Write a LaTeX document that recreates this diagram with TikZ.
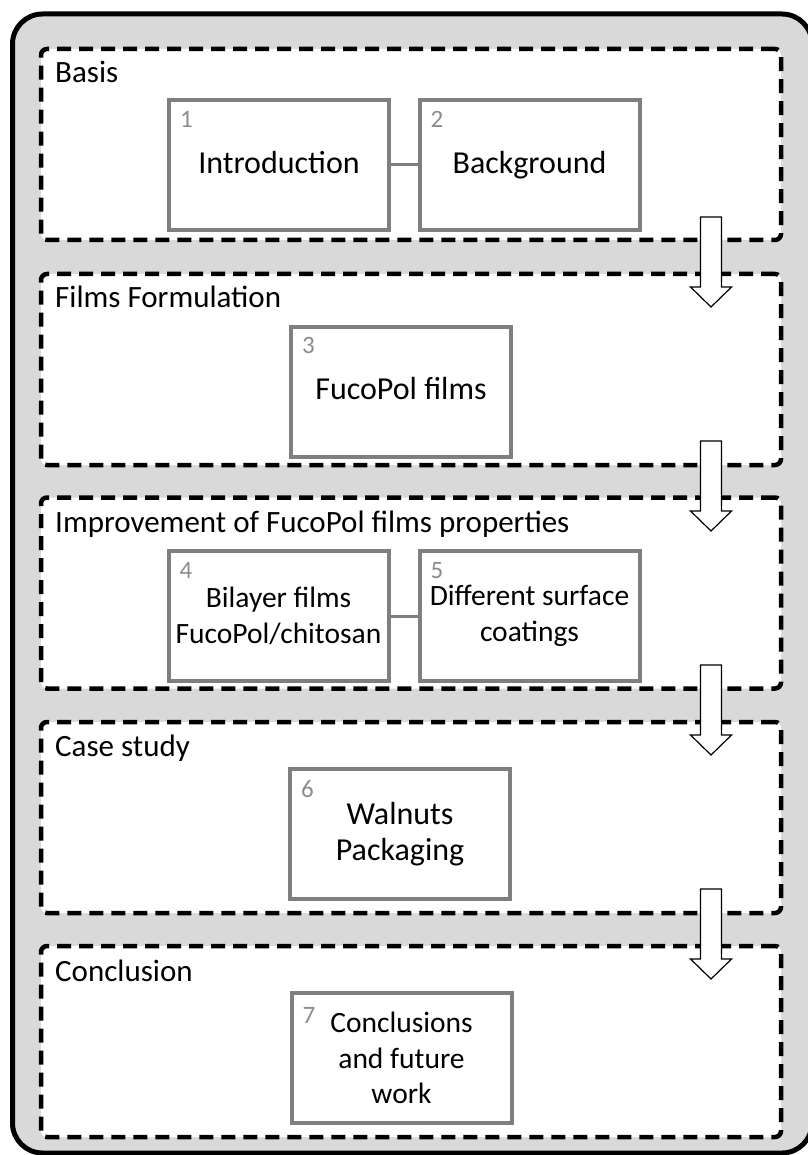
\documentclass[tikz,border=0pt]{standalone}
\usepackage{fontspec}
\setmainfont{Carlito}
\definecolor{bggray}{HTML}{D9D9D9}
\definecolor{boxgray}{HTML}{7F7F7F}
\definecolor{numgray}{HTML}{8C8C8C}
\begin{document}
\begin{tikzpicture}[x=1pt,y=-1pt,
  outerbox/.style={draw=black,line width=5pt,fill=bggray,rounded corners=30pt},
  section/.style={draw=black,line width=4.5pt,dash pattern=on 14pt off 8pt,fill=white,rounded corners=6pt,
     minimum width=740pt,minimum height=191pt,inner sep=0pt,outer sep=0pt},
  sectitle/.style={anchor=base west,inner sep=0pt,font=\fontsize{31}{36}\selectfont},
  item/.style={draw=boxgray,line width=4pt,fill=white,minimum width=220pt,minimum height=130pt,
     inner sep=0pt,outer sep=0pt,align=center,font=\fontsize{32}{36}\selectfont},
  smalltext/.style={font=\fontsize{29.5}{35.5}\selectfont},
  num/.style={anchor=north west,inner sep=0pt,text=numgray,font=\fontsize{25}{28}\selectfont},
  link/.style={draw=boxgray,line width=3pt},
  blockarrow/.pic={\draw[fill=white,line width=1.2pt,line join=miter]
     (-10.5,0) -- (10.5,0) -- (10.5,70) -- (20.5,70) -- (0,90) -- (-20.5,70) -- (-10.5,70) -- cycle;}
]
\useasboundingbox (0,0) rectangle (807,1155);
\draw[outerbox] (12.5,14) rectangle (812,1153);

% sections
\node[section] (s1) at (411,144.5) {};
\node[section] (s2) at (411,369.5) {};
\node[section] (s3) at (411,593) {};
\node[section] (s4) at (411,817.5) {};
\node[section] (s5) at (411,1041.5) {};

\node[sectitle] (t1) at (55,83) {Basis};
\node[sectitle] (t2) at (55,308) {Films Formulation};
\node[sectitle] (t3) at (55,532) {Improvement of FucoPol films properties};
\node[sectitle] (t4) at (55,756) {Case study};
\node[sectitle] (t5) at (55,981) {Conclusion};

% items
\node[item] (b1) at (279,165) {Introduction\vphantom{g}};
\node[item] (b2) at (529.5,165) {Background};
\node[item] (b3) at (401,391.5) {FucoPol films\vphantom{g}};
\node[item,smalltext] (b4) at (278.5,616) {Bilayer films\\FucoPol/chitosan};
\node[item,smalltext] (b5) at (529.5,616) {Different surface\\coatings};
\node[item] (b6) at (400,834) {Walnuts\\Packaging};
\node[item,smalltext] (b7) at (401.5,1058) {Conclusions\\and future\\work};

\node[num] (n1) at ([shift={(11,11)}]b1.north west) {1};
\node[num] (n2) at ([shift={(11,11)}]b2.north west) {2};
\node[num] (n3) at ([shift={(11,11)}]b3.north west) {3};
\node[num] (n4) at ([shift={(11,11)}]b4.north west) {4};
\node[num] (n5) at ([shift={(11,11)}]b5.north west) {5};
\node[num] (n6) at ([shift={(11,11)}]b6.north west) {6};
\node[num] (n7) at ([shift={(11,14)}]b7.north west) {7};

\draw[link] (b1.east) -- (b2.west);
\draw[link] (b4.east) -- (b5.west);

% block arrows
\pic at (711,217) {blockarrow};
\pic at (711,441) {blockarrow};
\pic at (711,665) {blockarrow};
\pic at (711,889) {blockarrow};
\end{tikzpicture}
\end{document}
